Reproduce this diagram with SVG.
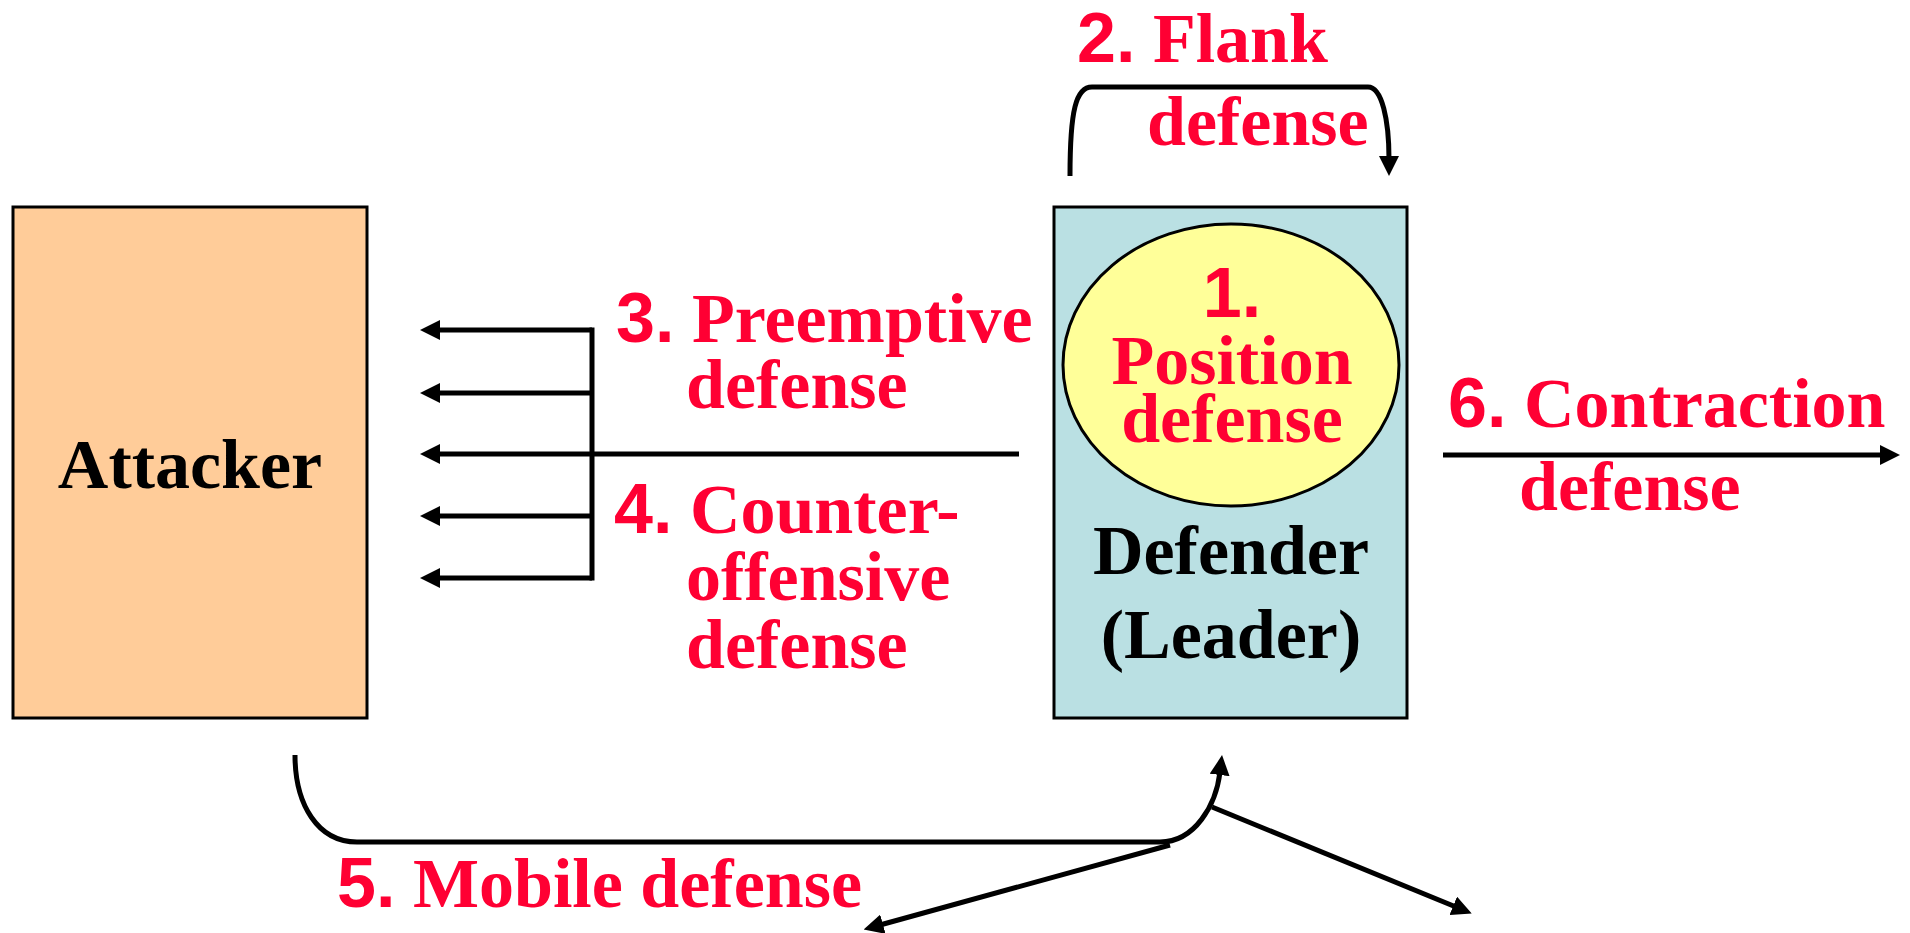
<svg xmlns="http://www.w3.org/2000/svg" width="1910" height="933" viewBox="0 0 1910 933">
<style>
text{font-family:'Liberation Serif','Times New Roman',Times,serif;font-weight:700;font-size:70px}
.red{fill:#FF0033}
.blk{fill:#000}
tspan.n{font-family:'Liberation Sans',Arial,Helvetica,sans-serif}
.c{fill:none;stroke:#000;stroke-width:5}
.box{stroke:#000;stroke-width:3}
</style>
<defs>
<marker id="ah" markerUnits="userSpaceOnUse" markerWidth="20" markerHeight="20" viewBox="0 0 20 20" refX="3" refY="10" orient="auto">
<path d="M0,0 L20,10 L0,20 z" fill="#000"/>
</marker>
</defs>
<rect width="1910" height="933" fill="#fff"/>
<g id="attacker">
<rect class="box" x="13" y="207" width="354" height="511" fill="#FFCC99"/>
<text class="blk" x="190" y="488" text-anchor="middle">Attacker</text>
</g>
<g id="defender">
<rect class="box" x="1054" y="207" width="353" height="511" fill="#BAE0E3"/>
<text class="blk" x="1231" y="574" text-anchor="middle">Defender</text>
<text class="blk" x="1231" y="658" text-anchor="middle">(Leader)</text>
</g>
<g id="position">
<ellipse cx="1231" cy="365" rx="168" ry="141" fill="#FFFF99" stroke="#000" stroke-width="3"/>
<text class="red" x="1232" y="317" text-anchor="middle"><tspan class="n">1.</tspan></text>
<text class="red" x="1232" y="384" text-anchor="middle">Position</text>
<text class="red" x="1232" y="442" text-anchor="middle">defense</text>
</g>
<g id="connectors">
<path class="c" d="M1070,176 C1070,110 1076,87 1092,87 L1368,87 C1382,87 1389,120 1389,159" marker-end="url(#ah)"/>
<line class="c" x1="592" y1="330" x2="437" y2="330" marker-end="url(#ah)"/>
<line class="c" x1="592" y1="393" x2="437" y2="393" marker-end="url(#ah)"/>
<line class="c" x1="1019" y1="454" x2="437" y2="454" marker-end="url(#ah)"/>
<line class="c" x1="592" y1="516" x2="437" y2="516" marker-end="url(#ah)"/>
<line class="c" x1="592" y1="578" x2="437" y2="578" marker-end="url(#ah)"/>
<line class="c" x1="592" y1="327.5" x2="592" y2="580.5"/>
<line class="c" x1="1443" y1="455" x2="1883" y2="455" marker-end="url(#ah)"/>
<path class="c" d="M295,755 C295,805 318,842 357,842 L1160,842 C1195,842 1216,805 1220,772" marker-end="url(#ah)"/>
<line class="c" x1="1212" y1="807" x2="1456" y2="907" marker-end="url(#ah)"/>
<line class="c" x1="1170" y1="845" x2="880" y2="925" marker-end="url(#ah)"/>
</g>
<g id="labels">
<text class="red" x="1077" y="62"><tspan class="n">2.</tspan> Flank</text>
<text class="red" x="1147" y="145">defense</text>
<text class="red" x="616" y="342"><tspan class="n">3.</tspan> Preemptive</text>
<text class="red" x="686" y="408">defense</text>
<text class="red" x="614" y="533"><tspan class="n">4.</tspan> Counter-</text>
<text class="red" x="686" y="600">offensive</text>
<text class="red" x="686" y="668">defense</text>
<text class="red" x="337" y="907"><tspan class="n">5.</tspan> Mobile defense</text>
<text class="red" x="1448" y="427"><tspan class="n">6.</tspan> Contraction</text>
<text class="red" x="1519" y="510">defense</text>
</g>
</svg>
